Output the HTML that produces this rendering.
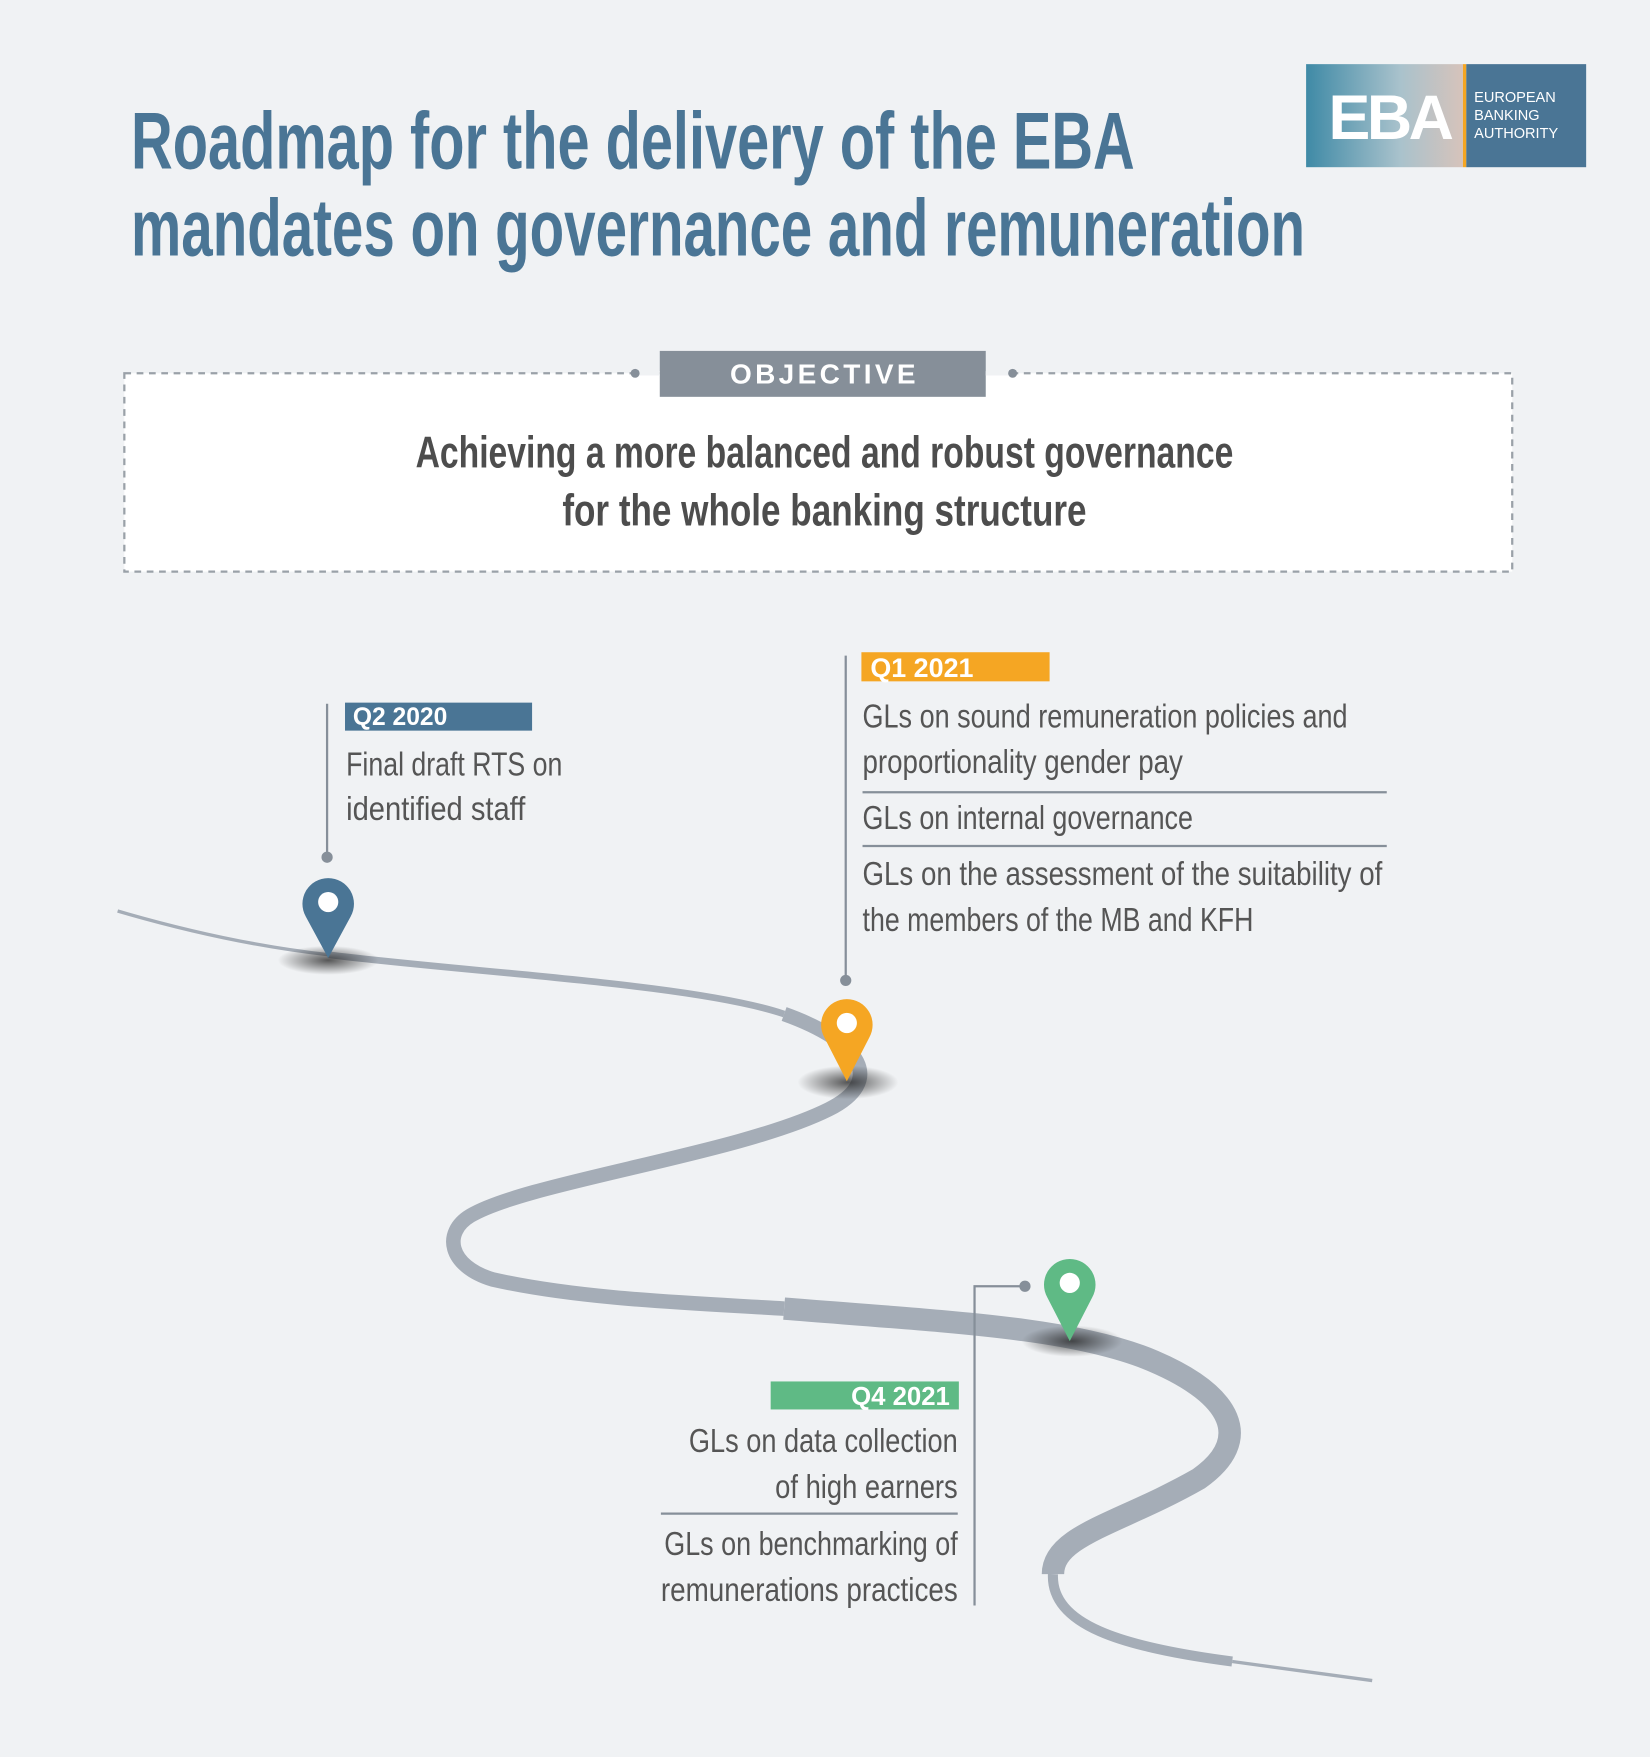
<!DOCTYPE html>
<html><head><meta charset="utf-8"><style>
html,body{margin:0;padding:0;background:#f0f2f4;}
svg{display:block}
text{font-family:"Liberation Sans Narrow","Liberation Sans",sans-serif;}
</style></head><body>
<svg width="1650" height="1757" viewBox="0 0 1473 1568" xmlns="http://www.w3.org/2000/svg">
<defs>
<radialGradient id="sh"><stop offset="0" stop-color="#222" stop-opacity="0.75"/><stop offset="1" stop-color="#222" stop-opacity="0"/></radialGradient>
<linearGradient id="lg" x1="0" x2="1"><stop offset="0" stop-color="#3f8aa6"/><stop offset="0.6" stop-color="#a9c2cc"/><stop offset="1" stop-color="#d6c3bb"/></linearGradient>
</defs>
<rect width="1473" height="1568" fill="#f0f2f4"/>
<!-- logo -->
<rect x="1166" y="57" width="140" height="92" fill="url(#lg)"/>
<rect x="1306" y="57" width="3" height="92" fill="#f5a623"/>
<rect x="1309" y="57" width="107" height="92" fill="#4a7595"/>
<text x="1186" y="124" font-size="56" font-weight="bold" fill="#fff" font-family="Liberation Sans" textLength="112">EBA</text>
<text x="1316" y="91" font-size="13" fill="#fff" font-family="Liberation Sans">EUROPEAN</text>
<text x="1316" y="107" font-size="13" fill="#fff" font-family="Liberation Sans">BANKING</text>
<text x="1316" y="123" font-size="13" fill="#fff" font-family="Liberation Sans">AUTHORITY</text>
<!-- title -->
<text x="117" y="150" font-size="72" font-weight="bold" fill="#4a7595" textLength="896" lengthAdjust="spacingAndGlyphs">Roadmap for the delivery of the EBA</text>
<text x="117" y="228" font-size="72" font-weight="bold" fill="#4a7595" textLength="1048" lengthAdjust="spacingAndGlyphs">mandates on governance and remuneration</text>
<!-- objective -->
<rect x="111" y="333" width="1239" height="177" fill="#fff" stroke="#9aa1a8" stroke-width="2" stroke-dasharray="6,5"/>
<rect x="589" y="313" width="291" height="41" fill="#868f99"/>
<line x1="568" y1="333" x2="589" y2="333" stroke="#f0f2f4" stroke-width="4"/>
<line x1="880" y1="333" x2="904" y2="333" stroke="#f0f2f4" stroke-width="4"/>
<circle cx="567" cy="333" r="4" fill="#868f99"/><circle cx="904" cy="333" r="4" fill="#868f99"/>
<text x="736" y="342" font-size="25" font-weight="bold" fill="#fff" text-anchor="middle" font-family="Liberation Sans" letter-spacing="3">OBJECTIVE</text>
<text x="736" y="417" font-size="40" font-weight="bold" fill="#4d4d4d" text-anchor="middle" textLength="730" lengthAdjust="spacingAndGlyphs">Achieving a more balanced and robust governance</text>
<text x="736" y="469" font-size="40" font-weight="bold" fill="#4d4d4d" text-anchor="middle" textLength="468" lengthAdjust="spacingAndGlyphs">for the  whole banking structure</text>
<!-- road -->
<g fill="none" stroke="#a5adb7" stroke-linecap="butt">
<path d="M105,813 C170,832 230,845 293,852" stroke-width="3"/>
<path d="M293,852 C420,868 620,878 700,905" stroke-width="6"/>
<path d="M700,905 C770,930 790,965 740,990 C660,1030 470,1055 420,1085 C395,1100 400,1130 440,1142 C520,1160 620,1163 700,1168" stroke-width="13"/>
<path d="M700,1168 C850,1180 960,1185 1030,1215 C1100,1245 1120,1285 1070,1320 C1000,1360 940,1370 940,1405" stroke-width="20"/>
<path d="M940,1405 C938,1450 1000,1470 1100,1483" stroke-width="9"/>
<path d="M1100,1483 C1150,1490 1190,1495 1225,1500" stroke-width="3"/>
</g>
<!-- shadows -->
<ellipse cx="293" cy="857" rx="45" ry="13" fill="url(#sh)"/>
<ellipse cx="757" cy="966" rx="45" ry="15" fill="url(#sh)"/>
<ellipse cx="957" cy="1197" rx="45" ry="14" fill="url(#sh)"/>
<!-- Q2 2020 -->
<line x1="292" y1="628" x2="292" y2="765" stroke="#868f99" stroke-width="2"/>
<circle cx="292" cy="765" r="5" fill="#868f99"/>
<rect x="308" y="627" width="167" height="25" fill="#4a7595"/>
<text x="315" y="647" font-size="22" font-weight="bold" fill="#fff" font-family="Liberation Sans">Q2 2020</text>
<text x="309" y="692" font-size="30" fill="#555" textLength="193" lengthAdjust="spacingAndGlyphs">Final draft RTS on</text>
<text x="309" y="732" font-size="30" fill="#555" textLength="160" lengthAdjust="spacingAndGlyphs">identified staff</text>
<path d="M293,855 L273,818 A23,23 0 1 1 313,818 Z" fill="#4a7595"/>
<circle cx="293" cy="805" r="9" fill="#fff"/>
<!-- Q1 2021 -->
<line x1="755" y1="585" x2="755" y2="875" stroke="#868f99" stroke-width="2"/>
<circle cx="755" cy="875" r="5" fill="#868f99"/>
<rect x="769" y="582" width="168" height="26" fill="#f5a623"/>
<text x="777" y="604" font-size="24" font-weight="bold" fill="#fff" font-family="Liberation Sans">Q1 2021</text>
<text x="770" y="649" font-size="30" fill="#555" textLength="433" lengthAdjust="spacingAndGlyphs">GLs on sound remuneration policies and</text>
<text x="770" y="690" font-size="30" fill="#555" textLength="286" lengthAdjust="spacingAndGlyphs">proportionality gender pay</text>
<line x1="770" y1="707" x2="1238" y2="707" stroke="#868f99" stroke-width="2"/>
<text x="770" y="740" font-size="30" fill="#555" textLength="295" lengthAdjust="spacingAndGlyphs">GLs on internal governance</text>
<line x1="770" y1="755" x2="1238" y2="755" stroke="#868f99" stroke-width="2"/>
<text x="770" y="790" font-size="30" fill="#555" textLength="464" lengthAdjust="spacingAndGlyphs">GLs on the assessment of the suitability of</text>
<text x="770" y="831" font-size="30" fill="#555" textLength="349" lengthAdjust="spacingAndGlyphs">the members of the MB and KFH</text>
<path d="M756,965 L736,926 A23,23 0 1 1 776,926 Z" fill="#f5a623"/>
<circle cx="756" cy="913" r="9" fill="#fff"/>
<!-- Q4 2021 -->
<polyline points="915,1148 870,1148 870,1433" fill="none" stroke="#868f99" stroke-width="2"/>
<circle cx="915" cy="1148" r="5" fill="#868f99"/>
<rect x="688" y="1233" width="168" height="25" fill="#5fba85"/>
<text x="848" y="1254" font-size="23" font-weight="bold" fill="#fff" text-anchor="end" font-family="Liberation Sans">Q4 2021</text>
<text x="855" y="1296" font-size="30" fill="#555" text-anchor="end" textLength="240" lengthAdjust="spacingAndGlyphs">GLs on data collection</text>
<text x="855" y="1337" font-size="30" fill="#555" text-anchor="end" textLength="163" lengthAdjust="spacingAndGlyphs">of high earners</text>
<line x1="590" y1="1351" x2="855" y2="1351" stroke="#868f99" stroke-width="2"/>
<text x="855" y="1388" font-size="30" fill="#555" text-anchor="end" textLength="262" lengthAdjust="spacingAndGlyphs">GLs on benchmarking of</text>
<text x="855" y="1429" font-size="30" fill="#555" text-anchor="end" textLength="265" lengthAdjust="spacingAndGlyphs">remunerations practices</text>
<path d="M955,1197 L935,1158 A23,23 0 1 1 975,1158 Z" fill="#5fba85"/>
<circle cx="955" cy="1145" r="9" fill="#fff"/>
</svg>
</body></html>
